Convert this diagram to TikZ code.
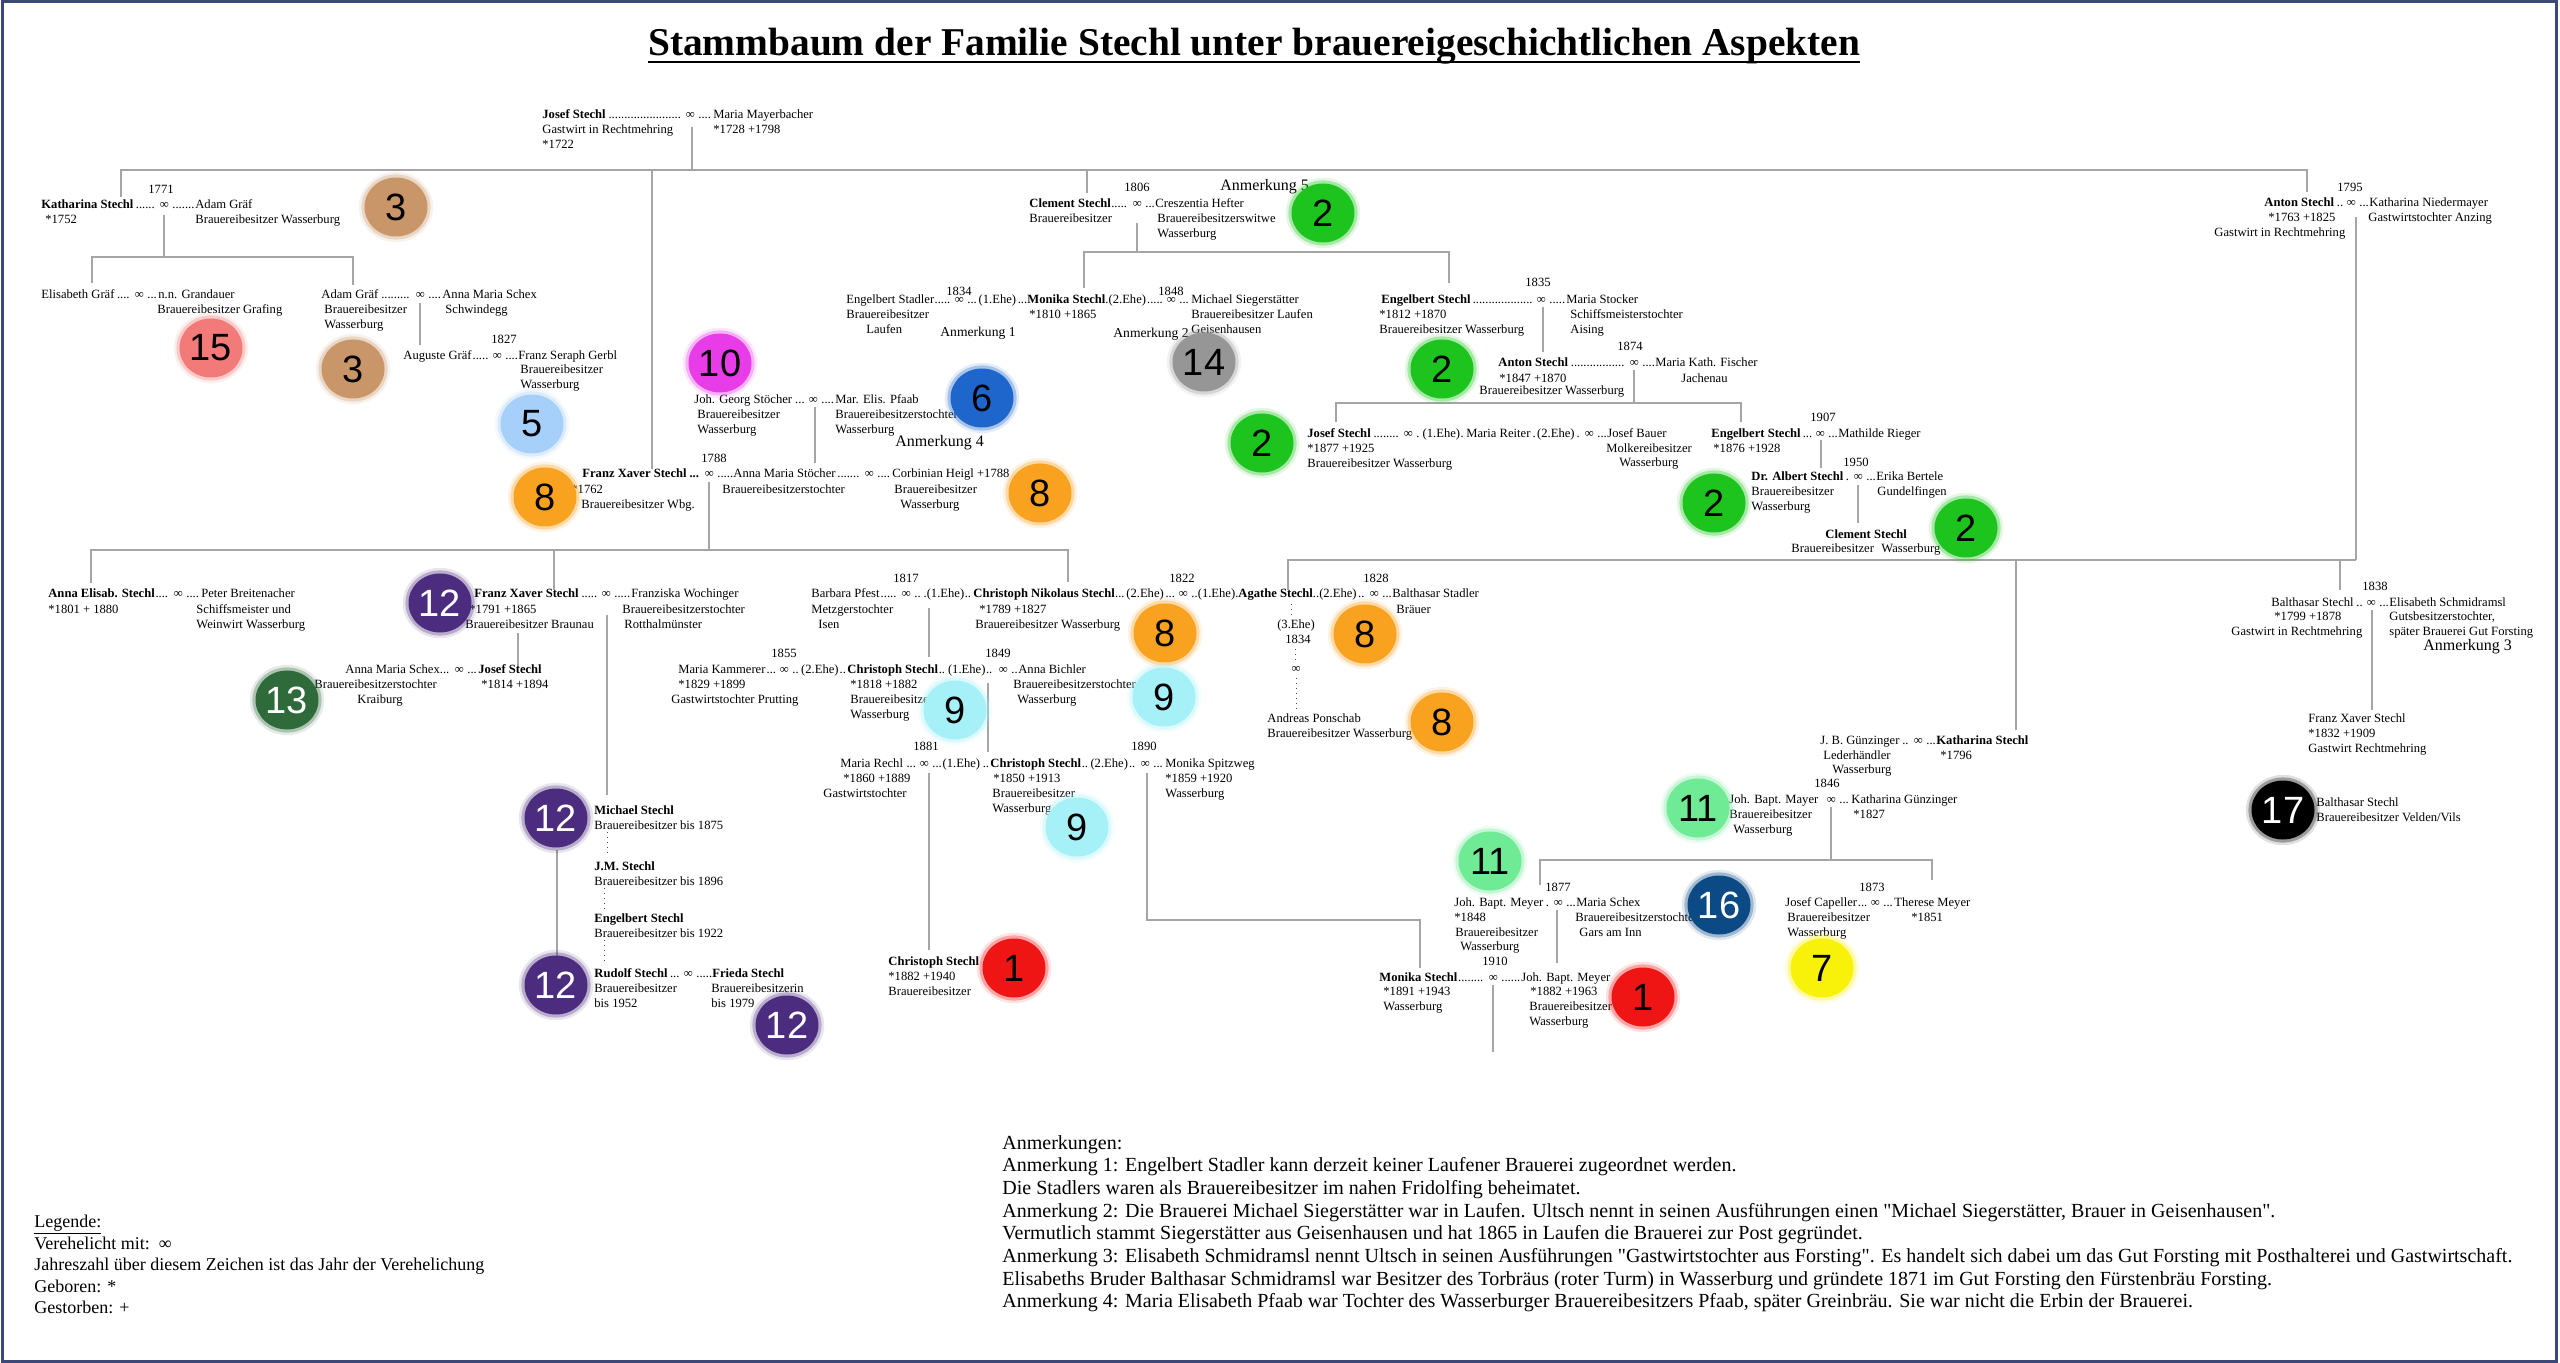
\documentclass[tikz,border=0pt]{standalone}
\usepackage{fontspec}
\setmainfont{Liberation Serif}
\newfontfamily\bfam{Liberation Sans}
\usetikzlibrary{shapes.geometric,calc}
\definecolor{lncol}{RGB}{165,165,165}
\definecolor{framecol}{RGB}{60,72,120}
\definecolor{cbrown}{RGB}{200,150,105}
\definecolor{csalmon}{RGB}{242,122,120}
\definecolor{clblue}{RGB}{166,208,250}
\definecolor{corange}{RGB}{249,162,32}
\definecolor{cmag}{RGB}{232,60,232}
\definecolor{cblue}{RGB}{31,102,204}
\definecolor{cgreen}{RGB}{30,196,30}
\definecolor{cgray}{RGB}{150,150,150}
\definecolor{cpurple}{RGB}{75,44,126}
\definecolor{cdgreen}{RGB}{47,106,58}
\definecolor{ccyan}{RGB}{165,241,247}
\definecolor{cred}{RGB}{240,21,21}
\definecolor{clgreen}{RGB}{111,234,149}
\definecolor{cnavy}{RGB}{12,74,134}
\definecolor{cyellow}{RGB}{248,242,10}
\newdimen\pxu \pxu=0.5pt
\newcommand\Seg[3]{\makebox[\dimexpr\pxu*\numexpr#2-#1\relax\relax][l]{#3}}
\newcommand\Dots{\leaders\hbox{.}\hfill}
\newcommand\Inf{\makebox[8pt]{∞}}
\newcommand\ML[1]{\begin{tabular}[t]{@{}l@{}}#1\end{tabular}}
\newcommand\Q{\textquotedbl}
\newcommand\tf{\fontsize{6.3}{7.5}\selectfont}
\newcommand\af{\fontsize{10}{11.35}\selectfont}
\newcommand\lf{\fontsize{9}{10.6}\selectfont}
\newcommand\Badge[6]{%
  \fill[#4,opacity=.12] (#2,#3) ellipse (18.6pt and 17.6pt);
  \fill[#4,opacity=.3] (#2,#3) ellipse (17.3pt and 16.3pt);
  \node[badge=#4,text=#5] (#1) at (#2,#3) {#6};}
\tikzset{
  t/.style={inner sep=0pt, anchor=base west, font=\tf},
  yr/.style={inner sep=0pt, anchor=base, font=\tf},
  an/.style={inner sep=0pt, anchor=base west, font=\fontsize{8}{9}\selectfont},
  as/.style={inner sep=0pt, anchor=base west, font=\fontsize{6.8}{8}\selectfont},
  ln/.style={draw=lncol, line width=0.6pt},
  dl/.style={draw=black!70, line width=0.5pt, dotted},
  badge/.style={ellipse, fill=#1, minimum width=31.5pt, minimum height=29.5pt, inner sep=0pt,
    font=\bfam\fontsize{19}{19}\selectfont},
}
\begin{document}
\begin{tikzpicture}[x=0.5pt,y=-0.5pt]
\useasboundingbox (0,0) rectangle (2560,1363);
\fill[white] (0,0) rectangle (2560,1363);
\draw[framecol, line width=1.5pt] (2,2) rectangle (2556,1361);

% title
\node[inner sep=0pt, anchor=base, font=\fontsize{19.7}{22}\selectfont\bfseries] (title) at (1254,56) {Stammbaum der Familie Stechl unter brauereigeschichtlichen Aspekten};
\draw[line width=1.1pt] ([yshift=-3pt]title.base west) -- ([yshift=-3pt]title.base east);

% ---------- connectors ----------
\draw[ln] (121,197) -- (121,170) -- (2307,170) -- (2307,192);
\draw[ln] (692,127) -- (692,170);
\draw[ln] (652,170) -- (652,469);
\draw[ln] (1087,170) -- (1087,193);
\draw[ln] (164,215) -- (164,257);
\draw[ln] (92,283) -- (92,257) -- (353,257) -- (353,285);
\draw[ln] (420,303) -- (420,345);
\draw[ln] (1137,223) -- (1137,252);
\draw[ln] (1084,288) -- (1084,252) -- (1449,252) -- (1449,283);
\draw[ln] (815,407) -- (815,463);
\draw[ln] (709,482) -- (709,550);
\draw[ln] (91,583) -- (91,550) -- (1068,550) -- (1068,582);
\draw[ln] (554,550) -- (554,590);
\draw[ln] (518,633) -- (518,667);
\draw[ln] (607,615) -- (607,795);
\draw[dl] (607,832) -- (607,857);
\draw[dl] (604,888) -- (604,910);
\draw[dl] (604,940) -- (604,963);
\draw[ln] (557,850) -- (557,957);
\draw[ln] (929,608) -- (929,657);
\draw[ln] (988,683) -- (988,752);
\draw[ln] (929,773) -- (929,950);
\draw[ln] (1147,773) -- (1147,920) -- (1420,920) -- (1420,968);
\draw[ln] (1493,985) -- (1493,1052);
\draw[ln] (1557,910) -- (1557,963);
\draw[ln] (1831,807) -- (1831,860);
\draw[ln] (1540,885) -- (1540,860) -- (1932,860) -- (1932,880);
\draw[ln] (1543,307) -- (1543,352);
\draw[ln] (1634,370) -- (1634,403);
\draw[ln] (1336,422) -- (1336,403) -- (1741,403) -- (1741,422);
\draw[ln] (1821,440) -- (1821,468);
\draw[ln] (1858,485) -- (1858,523);
\draw[ln] (2356,217) -- (2356,560);
\draw[ln] (1288,590) -- (1288,560) -- (2356,560);
\draw[ln] (2016,560) -- (2016,730);
\draw[ln] (2340,560) -- (2340,590);
\draw[ln] (2372,610) -- (2372,710);
\draw[dl] (1291,604) -- (1291,616);
\draw[dl] (1295,649) -- (1295,663);
\draw[dl] (1296,678) -- (1296,710);

% ---------- persons ----------
\node[t] (josef) at (542,119) {\Seg{542}{682}{\textbf{Josef Stechl}\Dots}\Inf\Seg{698}{713}{\Dots}Maria Mayerbacher};
\node[t] (josefb) at (542,134) {\ML{Gastwirt in Rechtmehring\\{*}1722}};
\node[t] (mariab) at (713,134) {*1728 +1798};

\node[yr] (y1771) at (161,194) {1771};
\node[t] (kath) at (41,209) {\Seg{41}{156}{\textbf{Katharina Stechl}\Dots}\Inf\Seg{172}{195}{\Dots}Adam Gräf};
\node[t] (kathb) at (45,224) {*1752};
\node[t] (adamb) at (195,224) {Brauereibesitzer Wasserburg};

\node[t] (elis) at (41,299) {\Seg{41}{131}{Elisabeth Gräf\Dots}\Inf\Seg{147}{158}{\Dots}n.n. Grandauer};
\node[t] (grand) at (157,314) {Brauereibesitzer Grafing};

\node[t] (adam2) at (321,299) {\Seg{321}{412}{Adam Gräf\Dots}\Inf\Seg{428}{442}{\Dots}Anna Maria Schex};
\node[t] (adam2b) at (324,314) {\ML{Brauereibesitzer\\Wasserburg}};
\node[t] (schexb) at (445,314) {Schwindegg};

\node[yr] (y1827) at (504,344) {1827};
\node[t] (aug) at (403,360) {\Seg{403}{489}{Auguste Gräf\Dots}\Inf\Seg{505}{518}{\Dots}Franz Seraph Gerbl};
\node[t] (gerbl) at (520,374) {\ML{Brauereibesitzer\\Wasserburg}};

\node[yr] (y1806) at (1137,192) {1806};
\node[t] (clem) at (1029,208) {\Seg{1029}{1129}{\textbf{Clement Stechl}\Dots}\Inf\Seg{1145}{1155}{\Dots}Creszentia Hefter};
\node[t] (clemb) at (1029,223) {Brauereibesitzer};
\node[t] (hefter) at (1157,223) {\ML{Brauereibesitzerswitwe\\Wasserburg}};
\node[an] (anm5) at (1220,191) {Anmerkung 5};

\node[yr] (y1834a) at (959,296) {1834};
\node[yr] (y1848) at (1171,296) {1848};
\node[t] (monika) at (846,304) {\Seg{846}{951}{Engelbert Stadler\Dots}\Inf\Seg{967}{1027}{\Dots(1.Ehe)\Dots}\Seg{1027}{1163}{\textbf{Monika Stechl}.(2.Ehe)\Dots}\Inf\Seg{1179}{1191}{\Dots}Michael Siegerstätter};
\node[t] (stadb) at (846,319) {Brauereibesitzer};
\node[t] (stadc) at (866,334) {Laufen};
\node[t] (monb) at (1029,319) {*1810 +1865};
\node[t] (siegb) at (1191,319) {\ML{Brauereibesitzer Laufen\\Geisenhausen}};
\node[as] (anm1) at (940,337) {Anmerkung 1};
\node[as] (anm2) at (1113,338) {Anmerkung 2};

\node[t] (stoech) at (694,404) {\Seg{694}{805}{Joh. Georg Stöcher\Dots}\Inf\Seg{821}{835}{\Dots}Mar. Elis. Pfaab};
\node[t] (stoechb) at (697,419) {\ML{Brauereibesitzer\\Wasserburg}};
\node[t] (pfaab) at (835,419) {\ML{Brauereibesitzerstochter\\Wasserburg}};
\node[an] (anm4) at (895,447) {Anmerkung 4};

\node[yr] (y1788) at (714,463) {1788};
\node[t] (fx1) at (582,478) {\Seg{582}{701}{\textbf{Franz Xaver Stechl\Dots}}\Inf\Seg{717}{733}{\Dots}\Seg{733}{861}{Anna Maria Stöcher\Dots}\Inf\Seg{877}{892}{\Dots}Corbinian Heigl +1788};
\node[t] (fx1b) at (571,494) {*1762};
\node[t] (fx1c) at (581,509) {Brauereibesitzer Wbg.};
\node[t] (amsb) at (722,494) {Brauereibesitzerstochter};
\node[t] (heiglb) at (894,494) {Brauereibesitzer};
\node[t] (heiglc) at (900,509) {Wasserburg};

\node[t] (annae) at (48,598) {\Seg{48}{170}{\textbf{Anna Elisab. Stechl}\Dots}\Inf\Seg{186}{201}{\Dots}Peter Breitenacher};
\node[t] (annaeb) at (48,614) {*1801 + 1880};
\node[t] (breitb) at (196,614) {\ML{Schiffsmeister und\\Weinwirt Wasserburg}};

\node[t] (fx2) at (474,598) {\Seg{474}{598}{\textbf{Franz Xaver Stechl}\Dots}\Inf\Seg{614}{631}{\Dots}Franziska Wochinger};
\node[t] (fx2b) at (469,614) {*1791 +1865};
\node[t] (fx2c) at (465,629) {Brauereibesitzer Braunau};
\node[t] (wochb) at (622,614) {Brauereibesitzerstochter};
\node[t] (wochc) at (624,629) {Rotthalmünster};

\node[t] (jos2) at (345,674) {\Seg{345}{451}{Anna Maria Schex\Dots}\Inf\Seg{467}{478}{\Dots}\textbf{Josef Stechl}};
\node[t] (schex2b) at (314,689) {Brauereibesitzerstochter};
\node[t] (schex2c) at (357,704) {Kraiburg};
\node[t] (jos2b) at (481,689) {*1814 +1894};

\node[t] (mich) at (594,814) {\ML{\textbf{Michael Stechl}\\Brauereibesitzer bis 1875}};
\node[t] (jm) at (594,870) {\ML{\textbf{J.M. Stechl}\\Brauereibesitzer bis 1896}};
\node[t] (eng3) at (594,922) {\ML{\textbf{Engelbert Stechl}\\Brauereibesitzer bis 1922}};
\node[t] (rud) at (594,977) {\Seg{594}{680}{\textbf{Rudolf Stechl}\Dots}\Inf\Seg{696}{712}{\Dots}\textbf{Frieda Stechl}};
\node[t] (rudb) at (594,992) {\ML{Brauereibesitzer\\bis 1952}};
\node[t] (friedab) at (711,992) {\ML{Brauereibesitzerin\\bis 1979}};

\node[yr] (y1817) at (906,583) {1817};
\node[yr] (y1822) at (1182,583) {1822};
\node[yr] (y1828) at (1376,583) {1828};
\node[t] (cnik) at (811,598) {\Seg{811}{898}{Barbara Pfest\Dots}\Inf\Seg{914}{973}{\Dots.(1.Ehe)\Dots}\Seg{973}{1175}{\textbf{Christoph Nikolaus Stechl}\Dots(2.Ehe)\Dots}\Inf\Seg{1191}{1238}{\Dots(1.Ehe).}\Seg{1238}{1366}{\textbf{Agathe Stechl}..(2.Ehe)\Dots}\Inf\Seg{1382}{1392}{\Dots}Balthasar Stadler};
\node[t] (pfestb) at (811,614) {Metzgerstochter};
\node[t] (pfestc) at (818,629) {Isen};
\node[t] (cnikb) at (979,614) {*1789 +1827};
\node[t] (cnikc) at (975,629) {Brauereibesitzer Wasserburg};
\node[t] (bstadb) at (1396,614) {Bräuer};
\node[yr] (ehe3) at (1296,629) {(3.Ehe)};
\node[yr] (y1834b) at (1298,644) {1834};
\node[yr] (inf3) at (1296,673) {∞};
\node[t] (andr) at (1267,722) {\ML{Andreas Ponschab\\Brauereibesitzer Wasserburg}};

\node[yr] (y1855) at (784,658) {1855};
\node[yr] (y1849) at (998,658) {1849};
\node[t] (chr2) at (678,674) {\Seg{678}{776}{Maria Kammerer\Dots}\Inf\Seg{792}{847}{\Dots(2.Ehe)\Dots}\Seg{847}{995}{\textbf{Christoph Stechl}\Dots(1.Ehe)\Dots}\Inf\Seg{1011}{1018}{\Dots}Anna Bichler};
\node[t] (kammb) at (678,689) {*1829 +1899};
\node[t] (kammc) at (671,704) {Gastwirtstochter Prutting};
\node[t] (chr2b) at (850,689) {\ML{{*}1818 +1882\\Brauereibesitzer\\Wasserburg}};
\node[t] (bichb) at (1013,689) {Brauereibesitzerstochter};
\node[t] (bichc) at (1017,704) {Wasserburg};

\node[yr] (y1881) at (926,750) {1881};
\node[yr] (y1890) at (1144,750) {1890};
\node[t] (chr3) at (840,767) {\Seg{840}{916}{Maria Rechl \Dots}\Inf\Seg{932}{990}{\Dots(1.Ehe)\Dots}\Seg{990}{1137}{\textbf{Christoph Stechl}\Dots(2.Ehe)\Dots}\Inf\Seg{1153}{1165}{\Dots}Monika Spitzweg};
\node[t] (rechlb) at (843,782) {*1860 +1889};
\node[t] (rechlc) at (823,797) {Gastwirtstochter};
\node[t] (chr3b) at (993,782) {*1850 +1913};
\node[t] (chr3c) at (992,797) {\ML{Brauereibesitzer\\Wasserburg}};
\node[t] (spitzb) at (1165,782) {\ML{{*}1859 +1920\\Wasserburg}};
\node[t] (chr4) at (888,965) {\ML{\textbf{Christoph Stechl}\\{*}1882 +1940\\Brauereibesitzer}};

\node[yr] (y1910) at (1495,965) {1910};
\node[t] (mon2) at (1379,981) {\Seg{1379}{1485}{\textbf{Monika Stechl}\Dots}\Inf\Seg{1501}{1521}{\Dots}Joh. Bapt. Meyer};
\node[t] (mon2b) at (1383,995) {\ML{{*}1891 +1943\\Wasserburg}};
\node[t] (meyb) at (1530,995) {*1882 +1963};
\node[t] (meyc) at (1529,1010) {\ML{Brauereibesitzer\\Wasserburg}};

\node[yr] (y1877) at (1558,891) {1877};
\node[t] (jbm) at (1454,906) {\Seg{1454}{1550}{Joh. Bapt. Meyer\Dots}\Inf\Seg{1566}{1576}{\Dots}Maria Schex};
\node[t] (jbmb) at (1454,921) {*1848};
\node[t] (jbmc) at (1455,936) {Brauereibesitzer};
\node[t] (jbmd) at (1460,950) {Wasserburg};
\node[t] (schex3b) at (1575,921) {Brauereibesitzerstochter};
\node[t] (schex3c) at (1579,936) {Gars am Inn};

\node[yr] (y1873) at (1872,891) {1873};
\node[t] (cap) at (1785,906) {\Seg{1785}{1867}{Josef Capeller\Dots}\Inf\Seg{1883}{1894}{\Dots}Therese Meyer};
\node[t] (capb) at (1787,921) {\ML{Brauereibesitzer\\Wasserburg}};
\node[t] (therb) at (1911,921) {*1851};

\node[yr] (y1846) at (1827,787) {1846};
\node[t] (jbmay) at (1729,803) {\Seg{1729}{1823}{Joh. Bapt. Mayer\Dots}\Inf\Seg{1839}{1851}{\Dots}Katharina Günzinger};
\node[t] (jbmayb) at (1729,818) {Brauereibesitzer};
\node[t] (jbmayc) at (1733,833) {Wasserburg};
\node[t] (kguenb) at (1853,818) {*1827};

\node[t] (guen) at (1820,744) {\Seg{1820}{1910}{J. B. Günzinger\Dots}\Inf\Seg{1926}{1936}{\Dots}\textbf{Katharina Stechl}};
\node[t] (guenb) at (1823,759) {Lederhändler};
\node[t] (guenc) at (1832,773) {Wasserburg};
\node[t] (kst2b) at (1940,759) {*1796};

\node[yr] (y1835) at (1538,287) {1835};
\node[t] (eng1) at (1381,304) {\Seg{1381}{1533}{\textbf{Engelbert Stechl}\Dots}\Inf\Seg{1549}{1566}{\Dots}Maria Stocker};
\node[t] (eng1b) at (1379,319) {\ML{{*}1812 +1870\\Brauereibesitzer Wasserburg}};
\node[t] (stockb) at (1570,319) {\ML{Schiffsmeisterstochter\\Aising}};

\node[yr] (y1874) at (1630,351) {1874};
\node[t] (ant2) at (1498,367) {\Seg{1498}{1626}{\textbf{Anton Stechl}\Dots}\Inf\Seg{1642}{1655}{\Dots}Maria Kath. Fischer};
\node[t] (ant2b) at (1499,383) {*1847 +1870};
\node[t] (ant2c) at (1479,395) {Brauereibesitzer Wasserburg};
\node[t] (fischb) at (1681,383) {Jachenau};

\node[t] (jos3) at (1307,438) {\Seg{1307}{1400}{\textbf{Josef Stechl}\Dots}\Inf\Seg{1416}{1466}{\Dots(1.Ehe)\Dots}\Seg{1466}{1581}{Maria Reiter\Dots(2.Ehe)\Dots}\Inf\Seg{1597}{1607}{\Dots}Josef Bauer};
\node[t] (jos3b) at (1307,453) {\ML{{*}1877 +1925\\Brauereibesitzer Wasserburg}};
\node[t] (bauerb) at (1606,453) {Molkereibesitzer};
\node[t] (bauerc) at (1619,467) {Wasserburg};

\node[yr] (y1907) at (1823,422) {1907};
\node[t] (eng2) at (1711,438) {\Seg{1711}{1812}{\textbf{Engelbert Stechl}\Dots}\Inf\Seg{1828}{1838}{\Dots}Mathilde Rieger};
\node[t] (eng2b) at (1713,453) {*1876 +1928};

\node[yr] (y1950) at (1856,467) {1950};
\node[t] (alb) at (1751,481) {\Seg{1751}{1850}{\textbf{Dr. Albert Stechl}\Dots}\Inf\Seg{1866}{1876}{\Dots}Erika Bertele};
\node[t] (albb) at (1751,496) {\ML{Brauereibesitzer\\Wasserburg}};
\node[t] (bertb) at (1877,496) {Gundelfingen};
\node[t] (clem2) at (1825,539) {\textbf{Clement Stechl}};
\node[t] (clem2b) at (1791,553) {Brauereibesitzer};
\node[t] (clem2c) at (1881,553) {Wasserburg};

\node[yr] (y1795) at (2350,192) {1795};
\node[t] (ant1) at (2264,207) {\Seg{2264}{2343}{\textbf{Anton Stechl}\Dots}\Inf\Seg{2359}{2369}{\Dots}Katharina Niedermayer};
\node[t] (ant1b) at (2268,222) {*1763 +1825};
\node[t] (ant1c) at (2214,237) {Gastwirt in Rechtmehring};
\node[t] (niedb) at (2368,222) {Gastwirtstochter Anzing};

\node[yr] (y1838) at (2375,591) {1838};
\node[t] (bal) at (2271,607) {\Seg{2271}{2363}{Balthasar Stechl\Dots}\Inf\Seg{2379}{2389}{\Dots}Elisabeth Schmidramsl};
\node[t] (balb) at (2274,621) {*1799 +1878};
\node[t] (balc) at (2231,636) {Gastwirt in Rechtmehring};
\node[t] (schmb) at (2389,621) {\ML{Gutsbesitzerstochter,\\später Brauerei Gut Forsting}};
\node[an] (anm3) at (2423,651) {Anmerkung 3};
\node[t] (fx3) at (2308,722) {\ML{Franz Xaver Stechl\\{*}1832 +1909\\Gastwirt Rechtmehring}};
\node[t] (bal2) at (2316,806) {\ML{Balthasar Stechl\\Brauereibesitzer Velden/Vils}};

% ---------- badges ----------
\Badge{b3a}{396}{207}{cbrown}{black}{3}
\Badge{b15}{211}{348}{csalmon}{black}{15}
\Badge{b3b}{353}{369}{cbrown}{black}{3}
\Badge{b5}{532}{424}{clblue}{black}{5}
\Badge{b10}{720}{363}{cmag}{black}{10}
\Badge{b6}{982}{398}{cblue}{black}{6}
\Badge{b14}{1204}{362}{cgray}{black}{14}
\Badge{b2a}{1323}{213}{cgreen}{black}{2}
\Badge{b2b}{1442}{369}{cgreen}{black}{2}
\Badge{b2c}{1262}{443}{cgreen}{black}{2}
\Badge{b2d}{1714}{503}{cgreen}{black}{2}
\Badge{b2e}{1966}{528}{cgreen}{black}{2}
\Badge{b8a}{545}{497}{corange}{black}{8}
\Badge{b8b}{1040}{493}{corange}{black}{8}
\Badge{b8c}{1165}{633}{corange}{black}{8}
\Badge{b8d}{1365}{634}{corange}{black}{8}
\Badge{b8e}{1442}{722}{corange}{black}{8}
\Badge{b12a}{440}{603}{cpurple}{white}{12}
\Badge{b13}{287}{700}{cdgreen}{white}{13}
\Badge{b12b}{556}{818}{cpurple}{white}{12}
\Badge{b12c}{556}{985}{cpurple}{white}{12}
\Badge{b12d}{787}{1025}{cpurple}{white}{12}
\Badge{b9a}{955}{710}{ccyan}{black}{9}
\Badge{b9b}{1164}{697}{ccyan}{black}{9}
\Badge{b9c}{1077}{827}{ccyan}{black}{9}
\Badge{b1a}{1014}{968}{cred}{black}{1}
\Badge{b1b}{1643}{997}{cred}{black}{1}
\Badge{b11a}{1490}{861}{clgreen}{black}{11}
\Badge{b11b}{1698}{808}{clgreen}{black}{11}
\Badge{b16}{1719}{905}{cnavy}{white}{16}
\Badge{b7}{1822}{968}{cyellow}{black}{7}
\Badge{b17}{2283}{810}{black}{white}{17}

% ---------- legend and notes ----------
\node[t, font=\lf] (leg) at (34,1227) {\ML{\underline{Legende:}\\Verehelicht mit:\ \ ∞\\Jahreszahl über diesem Zeichen ist das Jahr der Verehelichung\\Geboren: *\\Gestorben: +}};
\node[t, font=\af] (anm) at (1002,1149) {\ML{Anmerkungen:\\
Anmerkung 1: Engelbert Stadler kann derzeit keiner Laufener Brauerei zugeordnet werden.\\
Die Stadlers waren als Brauereibesitzer im nahen Fridolfing beheimatet.\\
Anmerkung 2: Die Brauerei Michael Siegerstätter war in Laufen. Ultsch nennt in seinen Ausführungen einen \Q Michael Siegerstätter, Brauer in Geisenhausen\Q.\\
Vermutlich stammt Siegerstätter aus Geisenhausen und hat 1865 in Laufen die Brauerei zur Post gegründet.\\
Anmerkung 3: Elisabeth Schmidramsl nennt Ultsch in seinen Ausführungen \Q Gastwirtstochter aus Forsting\Q. Es handelt sich dabei um das Gut Forsting mit Posthalterei und Gastwirtschaft.\\
Elisabeths Bruder Balthasar Schmidramsl war Besitzer des Torbräus (roter Turm) in Wasserburg und gründete 1871 im Gut Forsting den Fürstenbräu Forsting.\\
Anmerkung 4: Maria Elisabeth Pfaab war Tochter des Wasserburger Brauereibesitzers Pfaab, später Greinbräu. Sie war nicht die Erbin der Brauerei.}};
\end{tikzpicture}
\end{document}
